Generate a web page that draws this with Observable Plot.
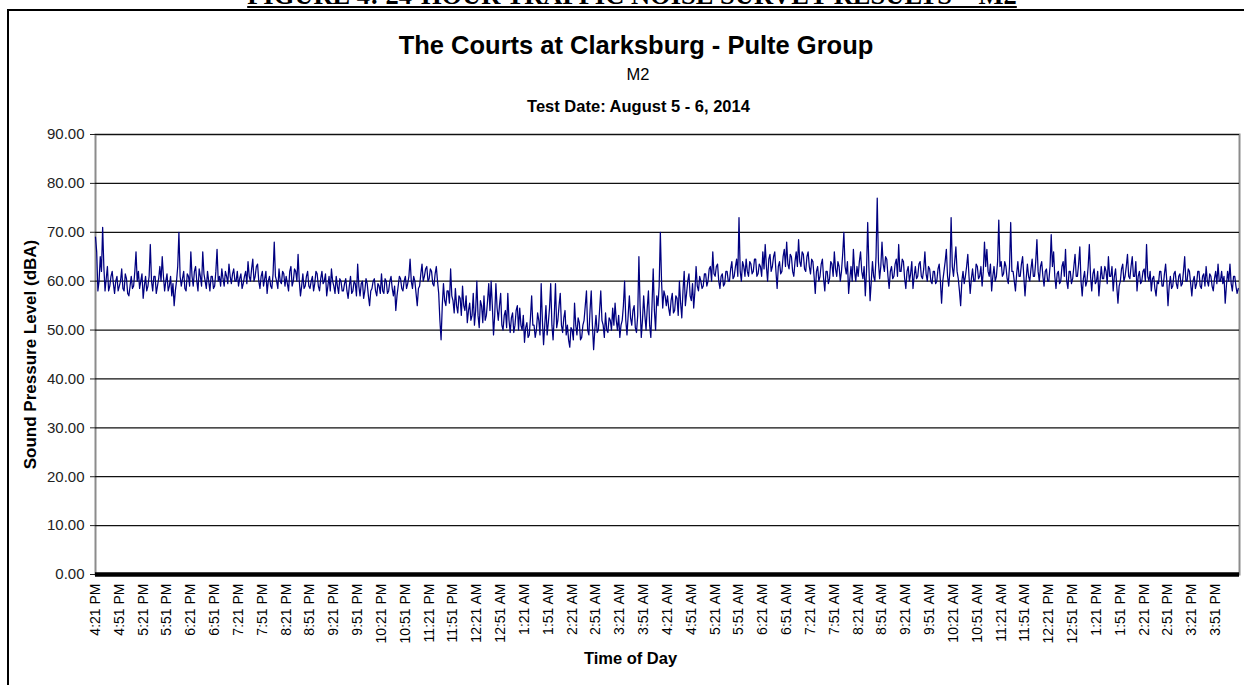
<!DOCTYPE html>
<html>
<head>
<meta charset="utf-8">
<script src="https://cdn.jsdelivr.net/npm/d3@7"></script>
<script src="https://cdn.jsdelivr.net/npm/@observablehq/plot@0.6"></script>
<style>
  html, body { margin: 0; padding: 0; background: #fff; }
  body { width: 1244px; height: 685px; position: relative; overflow: hidden; font-family: "Liberation Sans", Arial, sans-serif; }
  .abs { position: absolute; white-space: nowrap; }
  .ctr { transform: translateX(-50%); }
  #caption { left: 632px; top: -17.7px; font-family: "Liberation Serif", "Times New Roman", serif; font-weight: bold; font-size: 26.5px; line-height: 26.5px; text-decoration: underline; text-decoration-thickness: 2px; text-underline-offset: 2px; }
  #frame { left: 7px; top: 9px; width: 1240px; height: 700px; border-top: 2px solid #000; border-left: 2px solid #000; }
  #title { left: 636px; top: 33.4px; font-weight: bold; font-size: 25.5px; line-height: 25.5px; }
  #sub { left: 638px; top: 65.5px; font-size: 16.5px; line-height: 16.5px; }
  #date { left: 638.5px; top: 98px; font-weight: bold; font-size: 16.5px; line-height: 16.5px; }
  #chart { position: absolute; left: 0; top: 120px; }
</style>
</head>
<body>
<div id="frame" class="abs"></div>
<div id="caption" class="abs ctr">FIGURE 4: 24-HOUR TRAFFIC NOISE SURVEY RESULTS – M2</div>
<div id="title" class="abs ctr">The Courts at Clarksburg - Pulte Group</div>
<div id="sub" class="abs ctr">M2</div>
<div id="date" class="abs ctr">Test Date: August 5 - 6, 2014</div>
<div id="chart"></div>
<script>
// Tick labels on the time axis (one every 30 minutes, starting 4:21 PM)
const timeLabels = [
  "4:21 PM","4:51 PM","5:21 PM","5:51 PM","6:21 PM","6:51 PM","7:21 PM","7:51 PM",
  "8:21 PM","8:51 PM","9:21 PM","9:51 PM","10:21 PM","10:51 PM","11:21 PM","11:51 PM",
  "12:21 AM","12:51 AM","1:21 AM","1:51 AM","2:21 AM","2:51 AM","3:21 AM","3:51 AM",
  "4:21 AM","4:51 AM","5:21 AM","5:51 AM","6:21 AM","6:51 AM","7:21 AM","7:51 AM",
  "8:21 AM","8:51 AM","9:21 AM","9:51 AM","10:21 AM","10:51 AM","11:21 AM","11:51 AM",
  "12:21 PM","12:51 PM","1:21 PM","1:51 PM","2:21 PM","2:51 PM","3:21 PM","3:51 PM"
];
const labelStepMinutes = 30;
const sampleStepMinutes = 1.5;
const yTicks = [0, 10, 20, 30, 40, 50, 60, 70, 80, 90];

// Sound pressure level (dBA), read every 1.5 minutes, in 4-hour blocks
const eveningLevels = [ // 4:21 PM - 8:19 PM
  69,66,58,60,65,62,71,63,58,60.5, 63,58,59,61,62,59.5,57.5,60,61,58,
  59,60,62.5,58.5,58,61.5,60.5,57.5,57,59, 61,58.5,59,62,66,60,62,58.5,60,61.5,
  56.5,59,61,58,59,61,67.5,60,58,61, 61,57.5,59,60.5,63,60,65,61,58,60,
  61.5,58,59,61,57,59.5,55,58,60,63, 70,61,59,60.5,62,58.5,58,61.5,61,59,
  66,61,59,62,63,60,58,62.5,61,59, 66,61.5,60,58.5,62,60,58,61,61,58.5,
  59,62,66.5,60,61,59,62.5,60.5,59,62, 61,59.5,63.5,61,59.5,61.5,62.5,60,60,62,
  59,60.5,61.5,58.5,59.5,61,62,59.5,64,61, 60,62.5,64.5,60,61,63,63.5,60,58.5,61,
  62,59,60.5,62,57.5,60,61,59,58.5,61.5, 68,61,60,58.5,62.5,60,59.5,62,61.5,59
];
const lateEveningLevels = [ // 8:21 PM - 12:19 AM
  61,59.5,58,62,63,59,60,62.5,62,60, 65.5,60,57,59,61.5,58.5,59,61,62,59,
  58.5,60,61,58,59.5,62,61.5,59,58,60.5, 62,59.5,60,61.5,57,59,61,58,62.5,60,
  59,57.5,61,59,57.5,60.5,60,58,58,59.5, 60.5,58,56.5,59,61,57.5,58,60,59.5,57,
  63.5,59,57,59.5,60,56.5,58,60.5,59.5,57, 55,58,58.5,60,60.5,58,57,59.5,59,57.5,
  61.5,58,57.5,60.5,60,57.5,58,60,61,58.5, 57,59,54,57,59,61,60.5,58.5,58,60,
  61,58.5,59.5,61,64.5,60,58.5,61,60,57.5, 55,58.5,59,61.5,63.5,60,61,62.5,63,60,
  60.5,62.5,62,59.5,59,61.5,63,60,57.5,52, 48,55,59.5,56,55,58,58,55.5,62.5,57,
  56,53.5,58.5,55,53.5,57,56.5,53,59,55, 54,57,51.5,54,55.5,52,53,57.5,51,54
];
const nightLevels = [ // 12:21 AM - 4:19 AM
  60,53,50.5,56,55,51.5,57,52,53,56, 59.5,54,60,55,49,53,59.5,54.5,52,55,
  57.5,51,50,53,54,50.5,57.5,52,49.5,52.5, 53.5,49.5,51,54,55,50,54.5,51,50,53,
  47.5,50.5,51.5,48.5,49,52.5,57,51,51,48.5, 50,53.5,52,49,59.5,52,47,51,55,49,
  51.5,54.5,59.5,51,48,53,59.5,50.5,52,55, 57.5,51,49.5,52.5,54,49,51,48,46.5,50.5,
  50,48,55.5,51,49,52.5,51.5,48,48.5,51, 52,55,58,50,49,54,58,51,46,50,
  53,49.5,50,54,58,52,51,48.5,53.5,50, 49.5,52.5,52,50,54.5,51,55.5,52,50,53,
  48.5,51,52,55,60,52,49,53,57,52.5, 51,54,55,50.5,49.5,53,65,55,48.5,52,
  57,53,50,54.5,58,51,48.5,55,62.5,54, 50,57,55,59,70,60,54.5,58,57,55
];
const morningLevels = [ // 4:21 AM - 8:19 AM
  57,54.5,53,56,57.5,53.5,54,57,56.5,53, 60,55.5,52.5,58,62,55,57.5,60,61.5,57,
  56,59.5,54.5,58,63,59,58,61,60,58.5, 59,61.5,61.5,59,60,62.5,63,60,66,61.5,
  61,63,63.5,60,58.5,61,61.5,59,59.5,62, 62,60,60,62.5,64,60.5,61,63,64.5,61,
  73,62,60,64,63,61,64.5,62,61,64, 63.5,61.5,62,64.5,64.5,61,61.5,63.5,63,61,
  66,62.5,67.5,63,60,64.5,65.5,62,63,65, 66,62,58.5,63,64,61.5,62,65,66.5,63,
  68,63.5,62.5,65.5,65,62,61,64,66,63, 68.5,64,63,66,65.5,62.5,62,65,66,63,
  61.5,64.5,64,61,57.5,62,63,60,61,63.5, 64.5,60.5,58,62,62,59.5,60.5,64,63.5,61,
  66,62.5,61,64,63,60,62,65.5,70,63, 61.5,64,57.5,60.5,63,60,66.5,62,60,63
];
const middayLevels = [ // 8:21 AM - 12:19 PM
  61,64,66,62,60.5,63,57,62,72,63, 56,60,64,61,60,65,77,64,60.5,63,
  68,63.5,62,65,64.5,61,58.5,62,63,60.5, 61,63.5,64.5,61,67.5,62,62,64.5,64,60.5,
  58.5,62,63,60,61.5,64,58.5,61,63,60.5, 61,63.5,64,61,60.5,62.5,66,61.5,60,63,
  62.5,60,59.5,62,62,59.5,60,62.5,63.5,60, 55.5,60,62,64,66.5,61,59,62,73,63,
  61,64,67,62,60.5,58,55,60,62,59.5, 61,63,65.5,61,57.5,60.5,62.5,60,60,63.5,
  63,60.5,61,63,59,62,68,63,66.5,62, 61,63.5,58,61,63,60,61,64,72.5,63,
  64,61,61.5,64,63,60.5,59.5,63,72,62, 62,60,58,61.5,64,61,61,63.5,65,61,
  57,60.5,63.5,61,60,62.5,64.5,61,61,64, 68.5,62,60,63,64,61,59,62,62.5,60
];
const afternoonLevels = [ // 12:21 PM - 4:19 PM
  60,63,69.5,63,66,61,58.5,61.5,62,59.5, 60,63,64,61,66.5,60,58.5,62,62,59.5,
  60.5,63,65.5,61,61,63.5,67,60,57,60.5, 62,59,60,63,67.5,61,58,61.5,62.5,59.5,
  60,62,57,60,63,60.5,60.5,63,62,59.5, 65,61,61,63,58,61,62.5,59,55.5,59,
  60,62.5,63.5,60,61,63,65.5,61,60.5,63, 65,61,61,64,58,61,62,59.5,60,62,
  62.5,60,67.5,61,60,62,58,60.5,61,58.5, 57,60,59.5,62,62,59,59,61.5,63.5,60,
  55,59,61,58.5,59,61.5,62,59.5,58.5,61, 61.5,59,59.5,62,65,60,60,62.5,62,59.5,
  57,60,61,58.5,59.5,62,62,59,58.5,61, 61.5,59,63,60,59,61.5,61,59,58,60.5,
  62,59.5,63.5,60,60,62,59.5,61,55.5,59, 62,60,63.5,59.5,58,61,61,59,57.5,58.5
];

const levels = [...eveningLevels, ...lateEveningLevels, ...nightLevels, ...morningLevels, ...middayLevels, ...afternoonLevels];
const data = levels.map((level, i) => ({minute: i * sampleStepMinutes, level}));
const tickMinutes = timeLabels.map((_, i) => i * labelStepMinutes);

const chart = Plot.plot({
  width: 1244,
  height: 564,
  marginLeft: 95,
  marginRight: 5,
  marginTop: 14,
  marginBottom: 110,
  x: {type: "linear", domain: [0, 1440]},
  y: {domain: [0, 90]},
  style: {fontFamily: "'Liberation Sans', Arial, sans-serif", background: "transparent", overflow: "visible", color: "#000"},
  marks: [
    Plot.frame({stroke: "#8c8c8c", strokeWidth: 2}),
    Plot.ruleY(yTicks.filter(d => d > 0), {stroke: "#111", strokeWidth: 1.2}),
    Plot.lineY(data, {x: "minute", y: "level", stroke: "#000080", strokeWidth: 1.25}),
    Plot.ruleY([0], {stroke: "#000", strokeWidth: 4.5}),
    Plot.axisY({ticks: yTicks, tickFormat: d => d.toFixed(2), tickSize: 5, tickPadding: 6, fontSize: 15, label: null, color: "#222"}),
    Plot.axisX({ticks: tickMinutes, tickFormat: d => timeLabels[Math.round(d / labelStepMinutes)], tickRotate: -90, tickSize: 0, tickPadding: 9, fontSize: 14, label: null}),
    Plot.text(["Sound Pressure Level (dBA)"], {text: d => d, frameAnchor: "left", dx: -65, rotate: -90, textAnchor: "middle", fontWeight: "bold", fontSize: 17}),
    Plot.text(["Time of Day"], {text: d => d, frameAnchor: "bottom", dx: -37, dy: 89, fontWeight: "bold", fontSize: 16.5})
  ]
});
document.getElementById("chart").appendChild(chart);
</script>
</body>
</html>
